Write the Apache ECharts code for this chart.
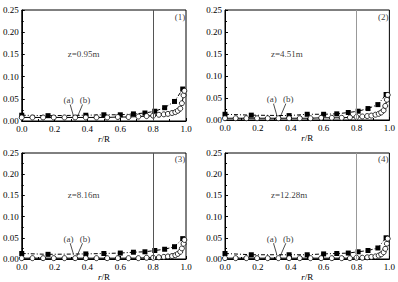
<!DOCTYPE html>
<html>
<head>
<meta charset="utf-8">
<script src="https://cdn.jsdelivr.net/npm/echarts@6/dist/echarts.min.js"></script>
<style>
html, body { margin: 0; padding: 0; background: #fff; }
#chart { width: 398px; height: 282px; }
</style>
</head>
<body>
<div id="chart"></div>
<script>
// square markers (a), shared r/R positions
const sqX = [0, 0.16, 0.39, 0.5, 0.6, 0.68, 0.75, 0.81, 0.87, 0.93, 0.98]
const sq1 = [0.013, 0.012, 0.013, 0.014, 0.014, 0.016, 0.018, 0.022, 0.030, 0.044, 0.072]
const sq2 = [0.013, 0.011, 0.010, 0.013, 0.013, 0.014, 0.017, 0.020, 0.026, 0.035, 0.058]
const sq3 = [0.013, 0.011, 0.012, 0.013, 0.014, 0.016, 0.017, 0.020, 0.023, 0.029, 0.048]
const sq4 = [0.013, 0.010, 0.010, 0.010, 0.012, 0.013, 0.014, 0.017, 0.020, 0.026, 0.050]

// circle markers (b)
const ciX = [0, 0.065, 0.13, 0.195, 0.26, 0.325, 0.39, 0.455, 0.52, 0.585, 0.65, 0.71, 0.76, 0.8, 0.835, 0.865, 0.89, 0.915, 0.935, 0.95, 0.965, 0.975, 0.985, 0.99]
const ci1 = [0.008, 0.008, 0.008, 0.008, 0.008, 0.008, 0.008, 0.008, 0.008, 0.009, 0.009, 0.010, 0.011, 0.012, 0.014, 0.015, 0.016, 0.018, 0.020, 0.023, 0.028, 0.040, 0.058, 0.068]
const ci2 = [0.004, 0.004, 0.004, 0.004, 0.004, 0.004, 0.004, 0.004, 0.004, 0.005, 0.005, 0.005, 0.006, 0.007, 0.008, 0.009, 0.010, 0.012, 0.014, 0.017, 0.022, 0.032, 0.046, 0.057]
const ci3 = [0.002, 0.002, 0.002, 0.002, 0.002, 0.002, 0.002, 0.002, 0.002, 0.002, 0.002, 0.002, 0.003, 0.003, 0.004, 0.005, 0.006, 0.007, 0.009, 0.012, 0.017, 0.025, 0.036, 0.045]
const ci4 = [0.002, 0.002, 0.002, 0.002, 0.002, 0.002, 0.002, 0.002, 0.002, 0.002, 0.002, 0.002, 0.002, 0.003, 0.003, 0.004, 0.005, 0.006, 0.008, 0.011, 0.016, 0.024, 0.036, 0.048]

const xTicks = ['0.0', '0.2', '0.4', '0.6', '0.8', '1.0']
const yTicks = ['0.00', '0.05', '0.10', '0.15', '0.20', '0.25']
const zLabels = ['z=0.95m', 'z=4.51m', 'z=8.16m', 'z=12.28m']
const panelLabels = ['(1)', '(2)', '(3)', '(4)']
const vLineColors = ['#555', '#999', '#555', '#999']

// leader lines of the (a)/(b) labels, in data units
const leadA = [[0.295, 0.037], [0.315, 0.011]]
const leadB = [[0.37, 0.037], [0.335, 0.006]]

const squares = [sq1, sq2, sq3, sq4]
const circles = [ci1, ci2, ci3, ci4]

const font = 'Liberation Serif'
const grids = [
	{ left: 17, top: 10, width: 169, height: 111 },
	{ left: 225, top: 10, width: 167, height: 110 },
	{ left: 17, top: 153, width: 169, height: 110 },
	{ left: 225, top: 153, width: 167, height: 110 }
]

const pair = (xs, ys) => xs.map((x, i) => [x, ys[i]])

const xAxis = grids.map((g, i) => ({
	gridIndex: i, type: 'value', min: 0, max: 1, interval: 0.2,
	name: '{i|r}/R', nameLocation: 'middle', nameGap: 13,
	nameTextStyle: { fontFamily: font, fontSize: 9, color: '#000', rich: { i: { fontStyle: 'italic', fontFamily: font, fontSize: 9 } } },
	axisLine: { lineStyle: { color: '#000', width: 1 } },
	axisTick: { inside: true, length: 3, lineStyle: { color: '#000' } },
	minorTick: { show: true, splitNumber: 2, length: 2, lineStyle: { color: '#000' } },
	axisLabel: { fontFamily: font, fontSize: 9, color: '#000', margin: 3, formatter: v => xTicks[Math.round(v / 0.2)] },
	splitLine: { show: false }
}))

const yAxis = grids.map((g, i) => ({
	gridIndex: i, type: 'value', min: 0, max: 0.25, interval: 0.05,
	axisLine: { lineStyle: { color: '#000', width: 1 } },
	axisTick: { inside: true, length: 3, lineStyle: { color: '#000' } },
	minorTick: { show: true, splitNumber: 2, length: 2, lineStyle: { color: '#000' } },
	axisLabel: { fontFamily: font, fontSize: 9, color: '#000', margin: 3, formatter: v => yTicks[Math.round(v / 0.05)] },
	splitLine: { show: false }
}))

const series = []
grids.forEach((g, i) => {
	series.push({
		type: 'line', xAxisIndex: i, yAxisIndex: i,
		data: pair(sqX, squares[i]),
		symbol: 'rect', symbolSize: 5,
		itemStyle: { color: '#000' },
		lineStyle: { color: '#000', width: 1, type: [4, 2, 1, 2] },
		z: 3,
		markLine: {
			silent: true, symbol: 'none', label: { show: false },
			lineStyle: { color: vLineColors[i], type: 'solid', width: 1 },
			data: [{ xAxis: 0.8 }]
		}
	})
	series.push({
		type: 'line', xAxisIndex: i, yAxisIndex: i,
		data: pair(ciX, circles[i]),
		symbol: 'circle', symbolSize: 5,
		itemStyle: { color: '#fff', borderColor: '#000', borderWidth: 0.8 },
		lineStyle: { color: '#000', width: 1 },
		z: 4
	})
	series.push({
		type: 'line', xAxisIndex: i, yAxisIndex: i, data: leadA, symbol: 'none',
		lineStyle: { color: '#000', width: 0.7 }, silent: true
	})
	series.push({
		type: 'line', xAxisIndex: i, yAxisIndex: i, data: leadB, symbol: 'none',
		lineStyle: { color: '#000', width: 0.7 }, silent: true
	})
	// text annotations placed in data units
	series.push({
		type: 'scatter', xAxisIndex: i, yAxisIndex: i, symbolSize: 0, silent: true,
		data: [
			{ value: [0.28, 0.151], label: { formatter: zLabels[i], align: 'left' } },
			{ value: [0.285, 0.047], label: { formatter: '(a)', align: 'center' } },
			{ value: [0.385, 0.047], label: { formatter: '(b)', align: 'center' } },
			{ value: [0.995, 0.235], label: { formatter: panelLabels[i], align: 'right' } }
		],
		label: { show: true, position: 'inside', fontFamily: font, fontSize: 9, color: '#000', verticalAlign: 'middle' }
	})
})

const chart = echarts.init(document.getElementById('chart'), null, { renderer: 'svg' })
chart.setOption({
	animation: false,
	backgroundColor: '#fff',
	grid: grids.map(g => Object.assign({ show: true, borderColor: '#000', borderWidth: 1, backgroundColor: 'transparent' }, g)),
	xAxis: xAxis,
	yAxis: yAxis,
	series: series
})
</script>
</body>
</html>
